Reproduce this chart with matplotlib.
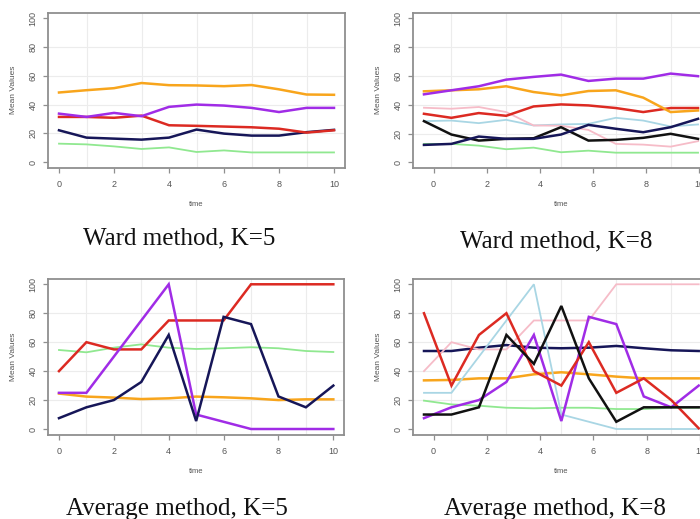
import numpy as np
import matplotlib
matplotlib.use('Agg')
import matplotlib.pyplot as plt

# time index 0..10 for every cluster mean curve
TIME = np.arange(11)

# ---- Ward method, K=5 ----
WARD5_ORANGE = [48.4, 50, 51.4, 55, 53.5, 53.3, 52.8, 53.6, 50.6, 47, 46.8]
WARD5_PURPLE = [33.7, 31.4, 34.2, 31.9, 38.4, 40, 39.3, 37.7, 34.8, 37.7, 37.7]
WARD5_RED = [31.4, 31.4, 30.8, 32.3, 25.6, 25.2, 24.7, 24.2, 23.2, 20.5, 22.1]
WARD5_NAVY = [22.1, 17, 16.3, 15.6, 17, 22.6, 19.8, 18.4, 18.4, 20.8, 22.4]
WARD5_GREEN = [12.8, 12.3, 10.9, 9.1, 10.2, 7, 8.1, 6.7, 6.7, 6.7, 6.7]

# ---- Ward method, K=8 ----
WARD8_PURPLE = [47.2, 50, 52.8, 57.4, 59.3, 60.9, 56.5, 58.1, 58.1, 61.6, 59.8]
WARD8_ORANGE = [49.3, 50, 50.7, 52.8, 48.8, 46.5, 49.5, 50, 44.9, 34.9, 36]
WARD8_RED = [33.7, 30.9, 34.2, 32.3, 38.8, 40.2, 39.5, 37.7, 34.9, 37.7, 37.7]
WARD8_PINK = [37.9, 37.2, 38.4, 34.9, 25.6, 25.4, 22.5, 12.8, 12.3, 10.9, 14.7]
WARD8_LIGHTBLUE = [28.6, 29, 27.2, 29.5, 25.6, 26.3, 26.7, 30.9, 29, 24.9, 26.3]
WARD8_NAVY = [12.1, 12.8, 17.9, 16.3, 16.3, 19.3, 26, 23.3, 20.9, 24.4, 30.2]
WARD8_BLACK = [28.6, 19.3, 15.1, 16.3, 16.7, 24.4, 15.1, 15.6, 17, 19.8, 16.3]
WARD8_GREEN = [12.8, 12.8, 11.6, 9.1, 10.2, 7, 8.1, 6.7, 6.7, 6.7, 6.7]

# ---- Average method, K=5 ----
AVG5_RED = [40, 60, 55, 55, 75, 75, 75, 100, 100, 100, 100]
AVG5_PURPLE = [25, 25, 50, 75, 100, 10, 5, 0, 0, 0, 0]
AVG5_NAVY = [7.5, 15, 20, 32.5, 65, 5.5, 77.5, 72.5, 22.5, 15, 30]
AVG5_GREEN = [54.6, 53, 56.2, 58.5, 56.2, 55.3, 55.8, 56.5, 55.8, 53.9, 53.2]
AVG5_ORANGE = [24.5, 22.4, 21.7, 20.7, 21.2, 22.4, 21.9, 21.2, 20, 20.5, 20.5]

# ---- Average method, K=8 ----
AVG8_PINK = [40, 60, 55, 55, 75, 75, 75, 100, 100, 100, 100]
AVG8_LIGHTBLUE = [25, 25, 50, 75, 100, 10, 5, 0, 0, 0, 0]
AVG8_GREEN = [19.6, 17, 16.1, 14.7, 14.3, 14.7, 14.7, 13.8, 13.8, 14.7, 14.7]
AVG8_ORANGE = [33.6, 33.9, 35, 35, 37.8, 39.2, 37.8, 36.2, 35, 35, 35]
AVG8_NAVY = [53.9, 53.9, 56.2, 58, 56.2, 55.8, 56.2, 57.4, 55.8, 54.4, 53.9]
AVG8_PURPLE = [7.5, 15, 20, 32.5, 65, 5.5, 77.5, 72.5, 22.5, 15, 30]
AVG8_BLACK = [10, 10, 15, 65, 45, 85, 35, 5, 15, 15, 15]
AVG8_RED = [80, 30, 65, 80, 40, 30, 60, 25, 35, 20, 0.5]

TICK_LABELS = [0, 2, 4, 6, 8, 10]
CAPTIONS = ['Ward method, K=5', 'Ward method, K=8',
            'Average method, K=5', 'Average method, K=8']

C = {
    'orange': '#F8A51C', 'purple': '#A02CE6', 'red': '#DC2A22',
    'navy': '#161658', 'green': '#90E890', 'pink': '#F6BCC8',
    'lightblue': '#A9D6E4', 'black': '#111111',
}
THIN = {'green', 'pink', 'lightblue'}

panels = [
    [('green', WARD5_GREEN), ('navy', WARD5_NAVY), ('red', WARD5_RED),
     ('purple', WARD5_PURPLE), ('orange', WARD5_ORANGE)],
    [('green', WARD8_GREEN), ('lightblue', WARD8_LIGHTBLUE), ('pink', WARD8_PINK),
     ('black', WARD8_BLACK), ('navy', WARD8_NAVY), ('red', WARD8_RED),
     ('orange', WARD8_ORANGE), ('purple', WARD8_PURPLE)],
    [('orange', AVG5_ORANGE), ('green', AVG5_GREEN), ('red', AVG5_RED),
     ('purple', AVG5_PURPLE), ('navy', AVG5_NAVY)],
    [('green', AVG8_GREEN), ('orange', AVG8_ORANGE), ('navy', AVG8_NAVY),
     ('pink', AVG8_PINK), ('lightblue', AVG8_LIGHTBLUE), ('purple', AVG8_PURPLE),
     ('red', AVG8_RED), ('black', AVG8_BLACK)],
]

W, H = 700, 519
# axes boxes in pixels: left, top, right, bottom
boxes = [(48, 12.6, 345, 167.8), (413, 12.5, 709, 168.1),
         (48, 278.5, 344.3, 434.8), (413, 278.5, 709.7, 434.8)]
# right-hand panels: the axis labels sit slightly off the curve vertices
shift, stretch = 0.35, 0.97

fig = plt.figure(figsize=(W / 100, H / 100), dpi=100)
frame_col = '#8f8f8f'

for i, (series, box) in enumerate(zip(panels, boxes)):
    l, t, r, b = box
    ax = fig.add_axes([l / W, 1 - b / H, (r - l) / W, (b - t) / H])
    for x in (1, 3, 5, 7, 9):
        ax.axvline(x, color='#ececec', lw=0.8, zorder=0)
    for y in (20, 40, 60, 80):
        ax.axhline(y, color='#ececec', lw=0.8, zorder=0)
    for name, vals in series:
        ax.plot(TIME, vals, color=C[name], lw=1.3 if name in THIN else 1.8,
                solid_joinstyle='miter')
    ax.set_xlim(-0.4, 10.4)
    ax.set_ylim(-4, 104)
    if i % 2 == 0:
        ax.set_xticks(TICK_LABELS)
    else:
        ax.set_xticks([shift + stretch * v for v in TICK_LABELS])
    ax.set_xticklabels([str(v) for v in TICK_LABELS])
    ax.set_yticks([0, 20, 40, 60, 80, 100])
    ax.set_yticklabels(['0', '20', '40', '60', '80', '100'], rotation=90, va='center')
    ax.tick_params(axis='both', length=3.5, width=0.9, color=frame_col,
                   labelsize=6.5, labelcolor='#555555')
    ax.tick_params(axis='x', pad=5)
    ax.tick_params(axis='y', pad=4)
    for sp in ax.spines.values():
        sp.set_color(frame_col)
        sp.set_linewidth(1.3)
    for lab in ax.get_xticklabels() + ax.get_yticklabels():
        lab.set_family('Liberation Sans')
    ax.set_xlabel('time', fontsize=5.5, color='#555555', family='Liberation Sans')
    ax.set_ylabel('Mean Values', fontsize=6, color='#555555', family='Liberation Sans')
    ax.xaxis.set_label_coords(0.5, -33 / (b - t))
    ax.yaxis.set_label_coords(-31 / (r - l), 0.5)

cap_pos = [(179, 244), (556, 247), (177, 515), (555, 515)]
for text, (cx, cy) in zip(CAPTIONS, cap_pos):
    fig.text(cx / W, 1 - cy / H, text, ha='center', va='baseline',
             fontsize=18, family='Liberation Serif', color='#111111')

fig.savefig('out.png', dpi=100)
